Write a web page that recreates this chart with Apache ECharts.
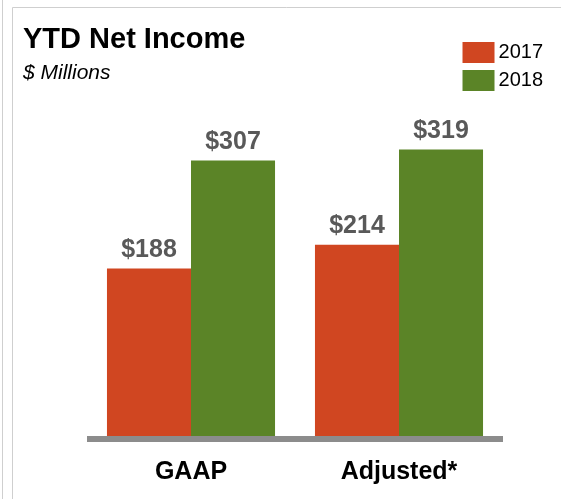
<!DOCTYPE html>
<html>
<head>
<meta charset="utf-8">
<script src="https://cdn.jsdelivr.net/npm/echarts@6/dist/echarts.min.js"></script>
<style>
  html, body { margin: 0; padding: 0; background: #fff; }
  #chart { width: 561px; height: 499px; }
</style>
</head>
<body>
<div id="chart"></div>
<script>
// data
const categories = ['GAAP', 'Adjusted*'];
const years = ['2017', '2018'];
const income2017 = [188, 214];
const income2018 = [307, 319];

const chart = echarts.init(document.getElementById('chart'));

const labelStyle = {
  show: true,
  position: 'top',
  distance: 6,
  formatter: p => '$' + p.value,
  fontFamily: 'Liberation Sans, Arial',
  fontWeight: 'bold',
  fontSize: 25,
  color: '#595959'
};

const option = {
  animation: false,
  backgroundColor: '#fff',
  textStyle: { fontFamily: 'Liberation Sans, Arial' },
  // panel borders
  graphic: [
    { type: 'line', shape: { x1: 2.5, y1: 0, x2: 2.5, y2: 499 }, style: { stroke: '#cfcfcf', lineWidth: 1 } },
    { type: 'line', shape: { x1: 12.5, y1: 7.5, x2: 12.5, y2: 499 }, style: { stroke: '#cfcfcf', lineWidth: 1 } },
    { type: 'line', shape: { x1: 12.5, y1: 7.5, x2: 561, y2: 7.5 }, style: { stroke: '#cfcfcf', lineWidth: 1 } }
  ],
  title: {
    text: 'YTD Net Income',
    subtext: '$ Millions',
    left: 18,
    top: 20,
    itemGap: 9,
    textStyle: { fontFamily: 'Liberation Sans, Arial', fontWeight: 'bold', fontSize: 29, color: '#000' },
    subtextStyle: { fontFamily: 'Liberation Sans, Arial', fontStyle: 'italic', fontSize: 21, color: '#000' }
  },
  legend: {
    data: years,
    orient: 'vertical',
    right: 13,
    top: 37,
    itemWidth: 32,
    itemHeight: 21,
    itemGap: 7,
    icon: 'rect',
    textStyle: { fontSize: 20, color: '#000', padding: [0, 0, 0, -1] }
  },
  grid: {
    left: 87,
    right: 58,
    top: 76,
    bottom: 60,
    containLabel: false
  },
  xAxis: {
    type: 'category',
    data: categories,
    z: 5,
    axisLine: { lineStyle: { color: '#8c8c8c', width: 6, cap: 'butt' } },
    axisTick: { show: false },
    axisLabel: {
      margin: 21,
      fontFamily: 'Liberation Sans, Arial',
      fontWeight: 'bold',
      fontSize: 25,
      color: '#000'
    }
  },
  yAxis: {
    type: 'value',
    min: 0,
    max: 400,
    show: false,
    splitLine: { show: false }
  },
  series: [
    {
      name: years[0],
      type: 'bar',
      data: income2017,
      barGap: '0%',
      barCategoryGap: '19.2%',
      itemStyle: { color: '#d04621' },
      label: labelStyle
    },
    {
      name: years[1],
      type: 'bar',
      data: income2018,
      itemStyle: { color: '#5b8427' },
      label: labelStyle
    }
  ]
};

chart.setOption(option);
window.addEventListener('resize', function () {
  chart.resize();
});
</script>
</body>
</html>
